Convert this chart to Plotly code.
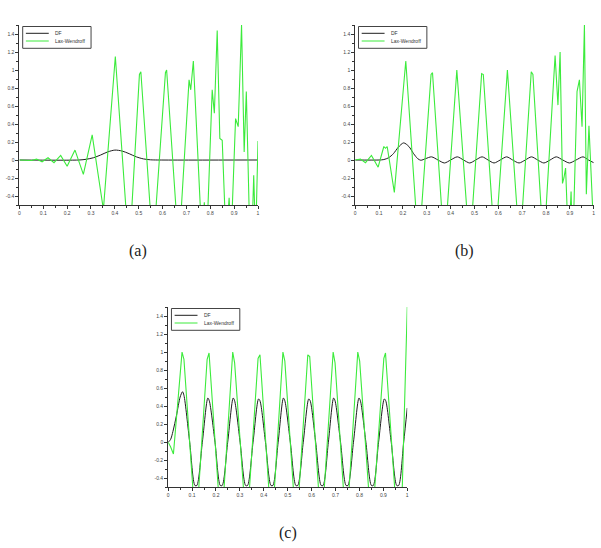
import plotly.graph_objects as go

# ---------------- data ----------------
# (a)
a_df_x = [0, 0.25, 0.28, 0.31, 0.34, 0.37, 0.40, 0.43, 0.46, 0.49, 0.52, 0.55, 0.58, 1.0]
a_df_y = [0, 0.0, 0.008, 0.025, 0.055, 0.09, 0.11, 0.10, 0.07, 0.035, 0.012, 0.002, 0.0, 0.0]
a_lw_x = [0, 0.03, 0.05, 0.072, 0.095, 0.12, 0.145, 0.173, 0.20, 0.233, 0.268, 0.305, 0.352,
          0.402, 0.46, 0.503, 0.509, 0.56, 0.612, 0.617, 0.668, 0.711, 0.718, 0.729, 0.765,
          0.775, 0.785, 0.808, 0.817, 0.829, 0.84, 0.85, 0.866, 0.879, 0.887, 0.906, 0.917,
          0.931, 0.942, 0.951, 0.966, 0.975, 0.982, 0.99, 1.0]
a_lw_y = [0, 0.0, -0.005, 0.01, -0.02, 0.025, -0.03, 0.05, -0.07, 0.11, -0.16, 0.28, -0.55,
          1.15, -1.05, 0.95, 0.98, -1.0, 0.97, 1.0, -1.0, 0.89, 0.78, 1.10, -0.9,
          -0.47, -0.9, 0.78, 0.52, 1.44, 0.24, 0.22, -0.9, -0.42, -0.9, 0.46, 0.37,
          1.5, 0.09, 0.76, -0.9, -0.8, -0.17, -0.9, 0.21]

# (b)
b_df_x = [0, 0.10, 0.12, 0.14, 0.16, 0.18, 0.203, 0.225, 0.245, 0.262, 0.275, 0.295, 0.32,
          0.347, 0.374, 0.40, 0.428, 0.454, 0.48, 0.505, 0.532, 0.557, 0.582, 0.608, 0.635,
          0.66, 0.687, 0.713, 0.739, 0.765, 0.791, 0.817, 0.843, 0.87, 0.898, 0.926, 0.955,
          0.978, 1.0]
b_df_y = [0, 0.0, 0.005, 0.025, 0.07, 0.14, 0.19, 0.15, 0.07, 0.015, -0.003, 0.015, 0.035,
          0.0, -0.033, 0.0, 0.035, 0.0, -0.033, 0.0, 0.035, 0.0, -0.033, 0.0, 0.035,
          0.0, -0.033, 0.0, 0.035, 0.0, -0.033, 0.0, 0.035, 0.0, -0.033, 0.0, 0.035,
          0.0, -0.03]
b_lw_x = [0, 0.022, 0.043, 0.068, 0.096, 0.12, 0.127, 0.134, 0.164, 0.212, 0.266, 0.318,
          0.324, 0.374, 0.426, 0.48, 0.53, 0.537, 0.586, 0.638, 0.69, 0.738, 0.745, 0.79,
          0.838, 0.85, 0.859, 0.869, 0.875, 0.882, 0.895, 0.905, 0.912, 0.93, 0.94, 0.951,
          0.961, 0.969, 0.98, 1.0]
b_lw_y = [0, 0.01, -0.03, 0.05, -0.08, 0.15, 0.13, 0.15, -0.36, 1.10, -1.0, 0.95,
          0.97, -1.0, 1.0, -1.0, 0.96, 0.95, -1.0, 1.0, -1.0, 0.98, 0.95, -1.0,
          1.16, 0.61, 1.20, -0.26, -0.2, -0.09, -1.0, -0.35, -1.0, 0.76, 0.89, 0.37,
          1.5, -0.38, 0.38, -0.8]

# (c)
c_df_x = [0, 0.01, 0.02, 0.035, 0.05, 0.06, 0.066, 0.09, 0.112, 0.12, 0.143, 0.166, 0.172,
          0.196, 0.218, 0.226, 0.249, 0.272, 0.278, 0.301, 0.324, 0.332, 0.355, 0.378, 0.384,
          0.407, 0.430, 0.438, 0.460, 0.482, 0.488, 0.511, 0.534, 0.542, 0.565, 0.588, 0.594,
          0.617, 0.640, 0.648, 0.670, 0.692, 0.698, 0.721, 0.744, 0.752, 0.775, 0.798, 0.804,
          0.827, 0.850, 0.858, 0.880, 0.904, 0.910, 0.933, 0.956, 0.964, 0.985, 1.0]
c_df_y = [0, 0.03, 0.12, 0.30, 0.50, 0.56, 0.52, 0.0, -0.48, -0.48, 0.0, 0.49, 0.46,
          0.0, -0.48, -0.48, 0.0, 0.49, 0.46, 0.0, -0.48, -0.48, 0.0, 0.48, 0.46,
          0.0, -0.48, -0.48, 0.0, 0.49, 0.46, 0.0, -0.48, -0.48, 0.0, 0.48, 0.46,
          0.0, -0.48, -0.48, 0.0, 0.49, 0.46, 0.0, -0.48, -0.48, 0.0, 0.49, 0.46,
          0.0, -0.48, -0.48, 0.0, 0.48, 0.46, 0.0, -0.48, -0.48, 0.0, 0.38]
c_lw_x = [0, 0.01, 0.022, 0.035, 0.048, 0.058, 0.066, 0.116, 0.163, 0.171, 0.222, 0.27,
          0.278, 0.328, 0.376, 0.384, 0.433, 0.48, 0.488, 0.536, 0.584, 0.592, 0.641, 0.69,
          0.698, 0.745, 0.793, 0.801, 0.851, 0.902, 0.909, 0.96, 0.975, 1.0]
c_lw_y = [0, -0.05, -0.13, 0.30, 0.75, 1.0, 0.92, -1.0, 0.92, 0.99, -1.0, 1.0,
          0.88, -1.0, 0.93, 0.97, -1.0, 1.0, 0.90, -1.0, 0.97, 0.95, -1.0, 1.0,
          0.88, -1.0, 1.0, 0.90, -1.0, 0.93, 0.99, -1.0, -0.9, 1.5]

x_ticks = [0, 0.1, 0.2, 0.3, 0.4, 0.5, 0.6, 0.7, 0.8, 0.9, 1.0]
x_ticktext = ["0", "0.1", "0.2", "0.3", "0.4", "0.5", "0.6", "0.7", "0.8", "0.9", "1"]
y_ticks = [-0.4, -0.2, 0, 0.2, 0.4, 0.6, 0.8, 1.0, 1.2, 1.4]
y_ticktext = ["-0.4", "-0.2", "0", "0.2", "0.4", "0.6", "0.8", "1", "1.2", "1.4"]
series_names = ["DF", "Lax-Wendroff"]
captions = ["(a)", "(b)", "(c)"]

# ---------------- style ----------------
W, H = 601, 548
BLACK = "#1e1e1e"
GREEN = "rgb(60,235,60)"
AXC = "#333333"
SERIF = "Liberation Serif, DejaVu Serif, Times New Roman, serif"

panels = [
    dict(dfx=a_df_x, dfy=a_df_y, lwx=a_lw_x, lwy=a_lw_y,
         px=(18.5, 258.3), py=(25, 205), cap=(138, 251)),
    dict(dfx=b_df_x, dfy=b_df_y, lwx=b_lw_x, lwy=b_lw_y,
         px=(356, 595.7), py=(25, 205), cap=(466, 251)),
    dict(dfx=c_df_x, dfy=c_df_y, lwx=c_lw_x, lwy=c_lw_y,
         px=(168, 408.3), py=(307, 487.3), cap=(288, 533)),
]

fig = go.Figure()
layout = dict(width=W, height=H, margin=dict(l=0, r=0, t=0, b=0),
              paper_bgcolor="white", plot_bgcolor="white", showlegend=False)
shapes = []
annotations = []

for i, p in enumerate(panels):
    k = "" if i == 0 else str(i + 1)
    xa, ya = "x" + k, "y" + k
    fig.add_trace(go.Scatter(x=p["dfx"], y=p["dfy"], mode="lines", name=series_names[0],
                             line=dict(color=BLACK, width=1, shape="spline", smoothing=0.8),
                             xaxis=xa, yaxis=ya))
    fig.add_trace(go.Scatter(x=p["lwx"], y=p["lwy"], mode="lines", name=series_names[1],
                             line=dict(color=GREEN, width=1.1),
                             xaxis=xa, yaxis=ya))
    x0, x1 = p["px"]
    y0, y1 = p["py"]
    layout["xaxis" + k] = dict(
        domain=[x0 / W, x1 / W], range=[0, 1], anchor=ya,
        showgrid=False, zeroline=False, showline=True, linecolor=AXC, linewidth=1,
        ticks="outside", ticklen=3, tickcolor=AXC, tickwidth=1,
        tickvals=x_ticks, ticktext=x_ticktext,
        tickfont=dict(size=5, color="#444", family="Liberation Sans"),
        minor=dict(dtick=0.05, ticks="outside", ticklen=2, tickcolor=AXC, showgrid=False),
    )
    layout["yaxis" + k] = dict(
        domain=[1 - y1 / H, 1 - y0 / H], range=[-0.5, 1.5], anchor=xa,
        showgrid=False, zeroline=False, showline=True, linecolor=AXC, linewidth=1,
        ticks="outside", ticklen=3, tickcolor=AXC, tickwidth=1,
        tickvals=y_ticks, ticktext=y_ticktext,
        tickfont=dict(size=5, color="#444", family="Liberation Sans"),
        minor=dict(dtick=0.1, ticks="outside", ticklen=2, tickcolor=AXC, showgrid=False),
    )
    # manual legend box
    xr, yr = xa + " domain", ya + " domain"
    pw, ph = x1 - x0, y1 - y0
    bx0, bx1 = 3.3 / pw, 72.0 / pw
    by0, by1 = 1 - 23.3 / ph, 1 - 1.5 / ph
    shapes.append(dict(type="rect", xref=xr, yref=yr, x0=bx0, x1=bx1, y0=by0, y1=by1,
                       line=dict(color="#444", width=1), fillcolor="white", layer="above"))
    for j, (nm, col) in enumerate(zip(series_names, [BLACK, GREEN])):
        ry = 1 - (8.3 + 7.7 * j) / ph
        shapes.append(dict(type="line", xref=xr, yref=yr, x0=6.5 / pw, x1=29.5 / pw,
                           y0=ry, y1=ry, line=dict(color=col, width=1), layer="above"))
        annotations.append(dict(xref=xr, yref=yr, x=34.0 / pw, y=ry, text=nm,
                                showarrow=False, xanchor="left", yanchor="middle",
                                font=dict(size=5, color="#333", family="Liberation Sans")))
    cx, cy = p["cap"]
    annotations.append(dict(xref="paper", yref="paper", x=cx / W, y=1 - cy / H,
                            text=captions[i], showarrow=False, xanchor="center",
                            yanchor="middle",
                            font=dict(size=16, color="#222", family=SERIF)))

layout["shapes"] = shapes
layout["annotations"] = annotations
fig.update_layout(**layout)
fig.write_html("out.html")
